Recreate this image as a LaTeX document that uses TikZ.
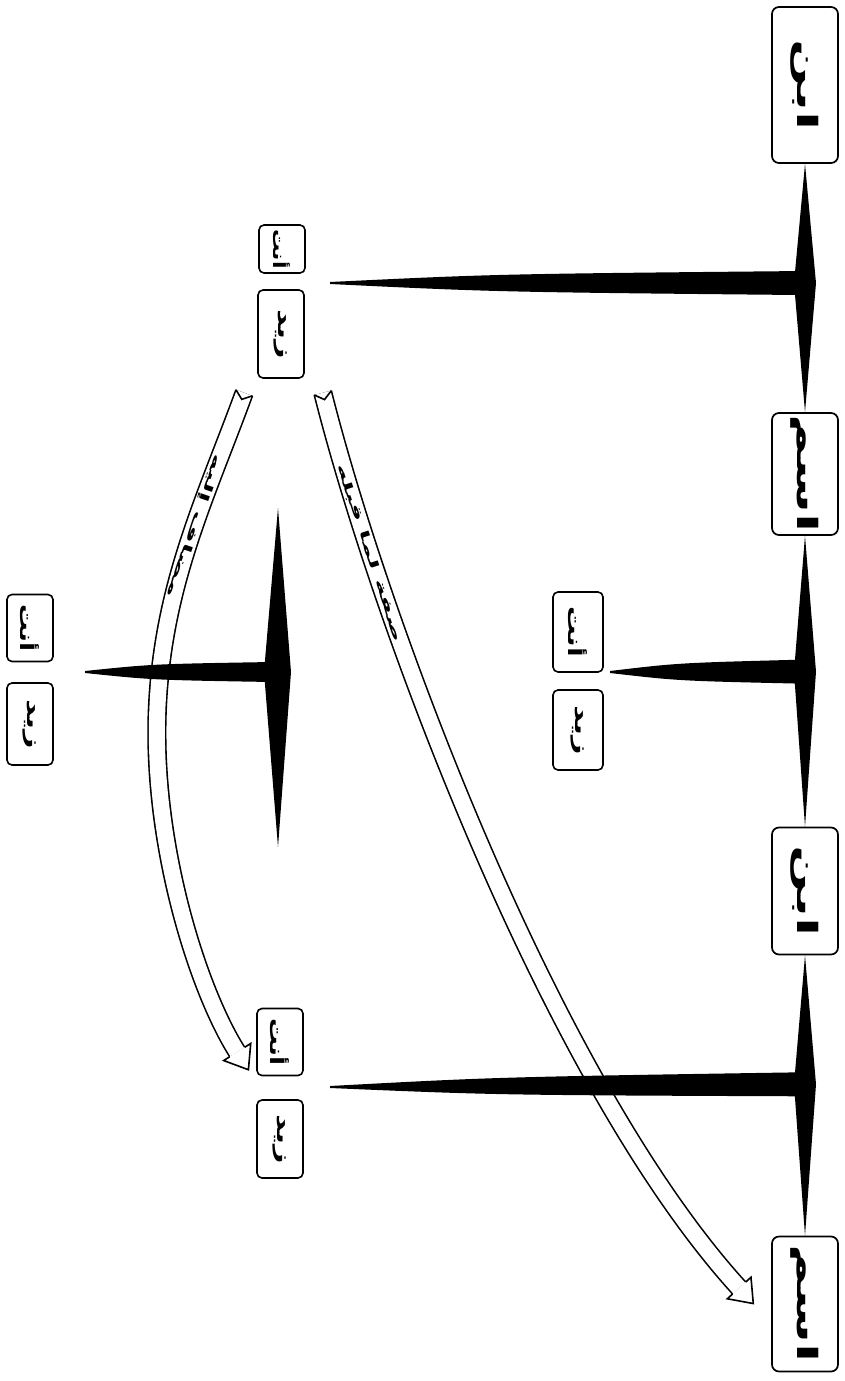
\documentclass[tikz,border=0pt]{standalone}
\usepackage{fontspec}
\usepackage{graphicx}
\usetikzlibrary{calc,decorations.markings}
\newfontfamily\ar[Script=Arabic]{DejaVu Sans}
\TeXXeTstate=1
\newcommand{\boxword}[3]{\rotatebox{-90}{\scalebox{#2}[1]{\fontsize{#1}{#1}\selectfont\ar\bfseries\beginR #3\endR}}}
\newcommand{\rlabel}[1]{\scalebox{2.4}[1]{\fontsize{12}{12}\selectfont\ar\bfseries\beginR #1\endR}}
\begin{document}
\begin{tikzpicture}[x=1pt,y=-1pt,
  topbox/.style={draw, line width=1.7pt, rounded corners=7pt, minimum width=66pt, inner sep=0pt},
  pairbox/.style={draw, line width=1.6pt, rounded corners=5pt, minimum width=46pt, inner sep=0pt},
  ribbon/.style={draw=black, line width=1.6pt, double=white, double distance=16pt},
  rlab/.style={sloped, allow upside down, inner sep=0pt},
  ends/.style={postaction={decorate}, decoration={markings,
     mark=at position 0 with {\draw[line width=1.6pt] (0,8.8) -- (7,0) -- (0,-8.8);},
     mark=at position 0.99999 with {\draw[line width=1.6pt, fill=white, line join=miter] (0,8.8) -- (0,16) -- (21,0) -- (0,-16) -- (0,-8.8);}}}
]
\useasboundingbox (0,0) rectangle (844,1381);

% top row
\node[topbox, minimum height=156pt] (b1) at (805,85) {\boxword{28}{2}{ابن}};
\node[topbox, minimum height=122pt] (b2) at (805,474) {\boxword{28}{2}{اسم}};
\node[topbox, minimum height=127pt] (b3) at (805,891) {\boxword{28}{2}{ابن}};
\node[topbox, minimum height=135pt] (b4) at (805,1304) {\boxword{28}{2}{اسم}};

% pairs
\node[pairbox, minimum height=48pt] (a1) at (282,249) {\boxword{17}{1.3}{أنت}};
\node[pairbox, minimum height=88pt] (a2) at (281,334) {\boxword{19}{1.7}{زيد}};
\node[pairbox, minimum height=67pt] (p1) at (30,628) {\boxword{19}{1.4}{أنت}};
\node[pairbox, minimum height=82pt] (p2) at (30,724) {\boxword{19}{1.7}{زيد}};
\node[pairbox, minimum width=50pt, minimum height=80pt] (c1) at (578,632) {\boxword{19}{1.5}{أنت}};
\node[pairbox, minimum width=50pt, minimum height=80pt] (c2) at (578,730) {\boxword{19}{1.7}{زيد}};
\node[pairbox, minimum height=67pt] (d1) at (280,1042) {\boxword{19}{1.4}{أنت}};
\node[pairbox, minimum height=78pt] (d2) at (280,1139) {\boxword{19}{1.7}{زيد}};

% ribbon arrows
\coordinate (r1s) at ($(a2.south west)+(-13,14)$);
\coordinate (r1m) at (157,720);
\coordinate (r1e) at ($(d1.west)+(-19,10)$);
\draw[ribbon] (r1s) .. controls (205,500) and (160,590) .. (r1m)
   node[rlab, pos=0.43] {\rlabel{مضاف إليه}}
   .. controls (154,850) and (198,990) .. (r1e);
\path[ends] (r1s) .. controls (205,500) and (160,590) .. (r1m) .. controls (154,850) and (198,990) .. (r1e);

\coordinate (r2s) at ($(a2.south east)+(18,14)$);
\coordinate (r2e) at ($(b4.west)+(-32,-16)$);
\draw[ribbon] (r2s) .. controls (380,620) and (550,1080) .. (r2e)
   node[rlab, pos=0.2] {\rlabel{صفة لما قبله}};
\path[ends] (r2s) .. controls (380,620) and (550,1080) .. (r2e);

% junctions
\coordinate (jA) at ($(b1.south)!0.48!(b2.north)$);
\coordinate (jC) at ($(b2.south)!0.467!(b3.north)$);
\coordinate (jD) at ($(b3.south)!0.46!(b4.north)$);
\coordinate (tA) at (330,283);
\coordinate (tB) at (85,672);
\coordinate (tC) at (610,672);
\coordinate (tD) at (330,1087);
\coordinate (vT) at (278,508);
\coordinate (vB) at (278,847);
\coordinate (jB) at (278,672);

% spine diamonds
\fill (b1.south) -- ($(jA)+(11,0)$) -- (b2.north) -- ($(jA)+(-11,0)$) -- cycle;
\fill (b2.south) -- ($(jC)+(11,0)$) -- (b3.north) -- ($(jC)+(-11,0)$) -- cycle;
\fill (b3.south) -- ($(jD)+(11,0)$) -- (b4.north) -- ($(jD)+(-11,0)$) -- cycle;
\fill (vT) -- ($(jB)+(13,0)$) -- (vB) -- ($(jB)+(-14,0)$) -- cycle;

% wedges (flaring)
\fill ($(tA)+(0,-1)$) .. controls ($(tA)!0.35!(jA)+(0,-9)$) .. ($(jA)+(-4,-12)$)
   -- ($(jA)+(-4,12)$) .. controls ($(tA)!0.35!(jA)+(0,9)$) .. ($(tA)+(0,1)$) -- cycle;
\fill ($(tC)+(0,-1)$) .. controls ($(tC)!0.35!(jC)+(0,-9)$) .. ($(jC)+(-4,-12)$)
   -- ($(jC)+(-4,12)$) .. controls ($(tC)!0.35!(jC)+(0,9)$) .. ($(tC)+(0,1)$) -- cycle;
\fill ($(tD)+(0,-1)$) .. controls ($(tD)!0.35!(jD)+(0,-9)$) .. ($(jD)+(-4,-12)$)
   -- ($(jD)+(-4,12)$) .. controls ($(tD)!0.35!(jD)+(0,9)$) .. ($(tD)+(0,1)$) -- cycle;
\fill ($(tB)+(0,-1)$) .. controls ($(tB)!0.35!(jB)+(0,-8)$) .. ($(jB)+(-6,-10)$)
   -- ($(jB)+(-6,10)$) .. controls ($(tB)!0.35!(jB)+(0,8)$) .. ($(tB)+(0,1)$) -- cycle;
\end{tikzpicture}
\end{document}
